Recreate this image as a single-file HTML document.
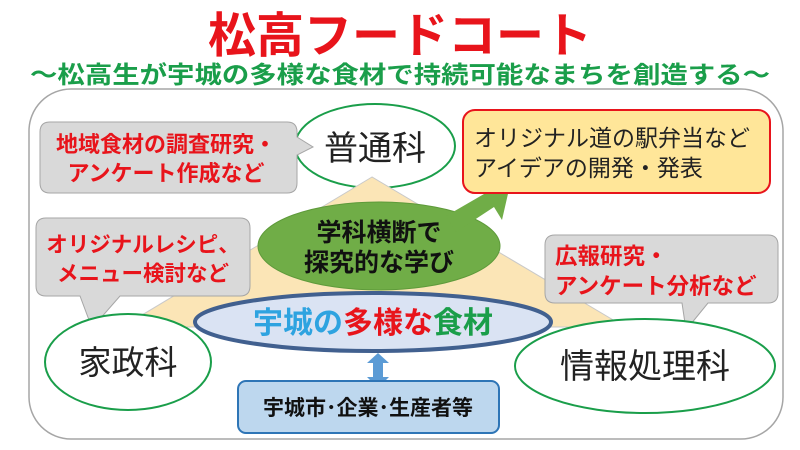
<!DOCTYPE html>
<html><head><meta charset="utf-8"><style>
html,body{margin:0;padding:0;background:#fff;}
svg{display:block;font-family:"Liberation Sans","Noto Sans CJK JP",sans-serif;}
</style></head><body>
<svg width="800" height="450" viewBox="0 0 800 450">
<text x="400" y="52" text-anchor="middle" font-size="48" font-weight="bold" fill="#e8141b">松高フードコート</text>
<text x="400" y="83" text-anchor="middle" font-size="24" font-weight="bold" fill="#1a9e4a" textLength="740" lengthAdjust="spacingAndGlyphs">～松高生が宇城の多様な食材で持続可能なまちを創造する～</text>
<rect x="29" y="89" width="754" height="350" rx="42" fill="#fff" stroke="#a6a6a6" stroke-width="1.5"/>
<ellipse cx="375" cy="146" rx="80" ry="42" fill="#fff" stroke="#1a9e4a" stroke-width="2"/>
<text x="375" y="160" text-anchor="middle" font-size="34" fill="#222">普通科</text>
<polygon points="372,177 122,327 625,327" fill="#fbe5b6" stroke="#c9c9c9" stroke-width="1"/>
<path d="M50,122 H287 Q297,122 297,132 V137 L313,147 L297,155 V183 Q297,193 287,193 H50 Q40,193 40,183 V132 Q40,122 50,122Z" fill="#d9d9d9" stroke="#a6a6a6" stroke-width="1"/>
<text x="166" y="152" text-anchor="middle" font-size="22" font-weight="bold" fill="#e8141b">地域食材の調査研究・</text>
<text x="166" y="181" text-anchor="middle" font-size="22" font-weight="bold" fill="#e8141b">アンケート作成など</text>
<ellipse cx="379" cy="246" rx="121" ry="44" fill="#70ad47" stroke="#5e9a3a" stroke-width="1"/>
<polygon points="446,216 484,194 474,186 510,185 502,220 494,207 456,232" fill="#70ad47"/>
<text x="379" y="241" text-anchor="middle" font-size="25" font-weight="bold" fill="#111">学科横断で</text>
<text x="379" y="271" text-anchor="middle" font-size="25" font-weight="bold" fill="#111">探究的な学び</text>
<rect x="463" y="110" width="307" height="83" rx="12" fill="#ffe699" stroke="#e8141b" stroke-width="2"/>
<text x="474" y="146" font-size="23" fill="#222">オリジナル道の駅弁当など</text>
<text x="474" y="176" font-size="23" fill="#222">アイデアの開発・発表</text>
<path d="M46,218 H240 Q250,218 250,228 V286 Q250,296 240,296 H120 L92,328 L80,296 H46 Q36,296 36,286 V228 Q36,218 46,218Z" fill="#d9d9d9" stroke="#a6a6a6" stroke-width="1"/>
<text x="143" y="252" text-anchor="middle" font-size="21.5" font-weight="bold" fill="#e8141b">オリジナルレシピ、</text>
<text x="143" y="281" text-anchor="middle" font-size="21.5" font-weight="bold" fill="#e8141b">メニュー検討など</text>
<path d="M555,235 H768 Q778,235 778,245 V293 Q778,303 768,303 H708 L686,330 L682,303 H555 Q545,303 545,293 V245 Q545,235 555,235Z" fill="#d9d9d9" stroke="#a6a6a6" stroke-width="1"/>
<text x="555" y="264" font-size="22.5" font-weight="bold" fill="#e8141b">広報研究・</text>
<text x="555" y="294" font-size="22.5" font-weight="bold" fill="#e8141b">アンケート分析など</text>
<ellipse cx="373" cy="322" rx="178" ry="29" fill="#dae3f3" stroke="#41608f" stroke-width="4"/>
<text x="373" y="333" text-anchor="middle" font-size="30" font-weight="bold"><tspan fill="#2ea3e0">宇城の</tspan><tspan fill="#e8141b">多様な</tspan><tspan fill="#1a9e4a">食材</tspan></text>
<ellipse cx="128" cy="362" rx="83" ry="48" fill="#fff" stroke="#1a9e4a" stroke-width="2"/>
<text x="128" y="374" text-anchor="middle" font-size="33" fill="#222">家政科</text>
<ellipse cx="645" cy="366" rx="130" ry="47" fill="#fff" stroke="#1a9e4a" stroke-width="2"/>
<text x="645" y="378" text-anchor="middle" font-size="34" fill="#222">情報処理科</text>
<polygon points="378,353 389,363 383,363 383,377 389,377 378,388 367,377 373,377 373,363 367,363" fill="#5b9bd5"/>
<rect x="238" y="381" width="261" height="52" rx="8" fill="#bdd7ee" stroke="#2e75b6" stroke-width="2"/>
<text x="368" y="415" text-anchor="middle" font-size="21" font-weight="bold" fill="#111">宇城市･企業･生産者等</text>
</svg>
</body></html>
